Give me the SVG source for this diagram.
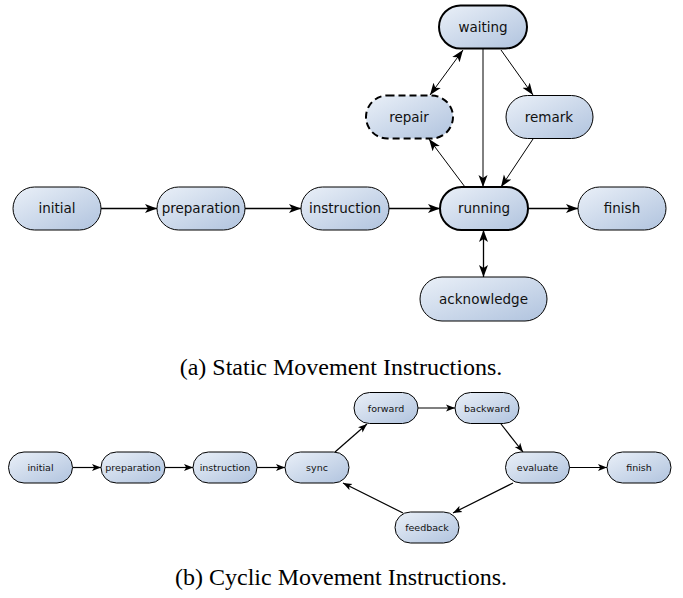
<svg xmlns="http://www.w3.org/2000/svg" width="683" height="598" viewBox="0 0 683 598">
<defs>
<linearGradient id="g" x1="0" y1="0" x2="1" y2="1">
<stop offset="0" stop-color="#eaf0f8"/>
<stop offset="1" stop-color="#b0c3de"/>
</linearGradient>
<marker id="a" markerUnits="userSpaceOnUse" markerWidth="13" markerHeight="10" refX="12" refY="5" orient="auto-start-reverse">
<path d="M0,0.5 L12,5 L0,9.5 L3,5 z" fill="#000"/>
</marker>
<marker id="s" markerUnits="userSpaceOnUse" markerWidth="10" markerHeight="8" refX="9" refY="4" orient="auto-start-reverse">
<path d="M0,0.5 L9,4 L0,7.5 L2.2,4 z" fill="#000"/>
</marker>
</defs>
<style>
.n rect{fill:url(#g);stroke:#000;stroke-width:1}
.b rect{stroke-width:2}
.d rect{stroke-width:2;stroke-dasharray:7 4}
text{font-family:"DejaVu Sans",sans-serif;fill:#111;text-anchor:middle}
.t{font-size:13.5px}
.u{font-size:9.5px}
.cap{font-family:"Liberation Serif","Times New Roman",serif;font-size:24px;fill:#000}
#edges path{fill:none;stroke:#000}
.h{stroke-width:1.3;marker-end:url(#a)}
.h2{stroke-width:1.3;marker-start:url(#a);marker-end:url(#a)}
.thin{stroke-width:1;marker-end:url(#a)}
.thin2{stroke-width:1;marker-start:url(#a);marker-end:url(#a)}
.bh{stroke-width:1.2;marker-end:url(#s)}
</style>
<g id="edges">
<path class="h" d="M101,208.5 H157"/>
<path class="h" d="M245,208.5 H301"/>
<path class="h" d="M389,208.5 H440"/>
<path class="h" d="M528,208.5 H578"/>
<path class="thin" d="M483,49 V187"/>
<path class="thin2" d="M463,50 L430,95"/>
<path class="thin" d="M501,50 L533,95"/>
<path class="thin" d="M533,139 L501,187"/>
<path class="thin" d="M465,187 L429,139"/>
<path class="h2" d="M483.5,230 V277"/>
<path class="bh" d="M73,467.5 H101"/>
<path class="bh" d="M165,467.5 H193"/>
<path class="bh" d="M257,467.5 H285"/>
<path class="bh" d="M335,452 L367,424"/>
<path class="bh" d="M418,408 H455"/>
<path class="bh" d="M501,424 L523,452"/>
<path class="bh" d="M569,467.5 H607"/>
<path class="bh" d="M513,483 L453,513"/>
<path class="bh" d="M403,513 L343,483"/>
</g>
<g id="a-initial" class="n"><rect x="13" y="187" width="88" height="43" rx="21.5"/><text class="t" x="57" y="213">initial</text></g>
<g id="a-preparation" class="n"><rect x="157" y="187" width="88" height="43" rx="21.5"/><text class="t" x="201" y="213">preparation</text></g>
<g id="a-instruction" class="n"><rect x="301" y="187" width="88" height="43" rx="21.5"/><text class="t" x="345" y="213">instruction</text></g>
<g id="a-running" class="n b"><rect x="440" y="187" width="88" height="43" rx="21.5"/><text class="t" x="484" y="213">running</text></g>
<g id="a-finish" class="n"><rect x="578" y="187" width="88" height="43" rx="21.5"/><text class="t" x="622" y="213">finish</text></g>
<g id="a-waiting" class="n b"><rect x="439" y="5.5" width="88" height="43" rx="21.5"/><text class="t" x="483" y="31.5">waiting</text></g>
<g id="a-repair" class="n d"><rect x="366" y="95.5" width="87" height="43" rx="21.5"/><text class="t" x="409" y="121.5">repair</text></g>
<g id="a-remark" class="n"><rect x="506" y="95.5" width="87" height="43" rx="21.5"/><text class="t" x="549" y="121.5">remark</text></g>
<g id="a-acknowledge" class="n"><rect x="420" y="277" width="127" height="44" rx="22"/><text class="t" x="483.5" y="303.5">acknowledge</text></g>
<text class="cap" x="341" y="375">(a) Static Movement Instructions.</text>
<g id="b-initial" class="n"><rect x="8.5" y="452" width="64" height="31" rx="15.5"/><text class="u" x="40.5" y="471">initial</text></g>
<g id="b-preparation" class="n"><rect x="101" y="452" width="64" height="31" rx="15.5"/><text class="u" x="133" y="471">preparation</text></g>
<g id="b-instruction" class="n"><rect x="193" y="452" width="64" height="31" rx="15.5"/><text class="u" x="225" y="471">instruction</text></g>
<g id="b-sync" class="n"><rect x="285" y="452" width="64" height="31" rx="15.5"/><text class="u" x="317" y="471">sync</text></g>
<g id="b-forward" class="n"><rect x="354" y="392.5" width="64" height="31" rx="15.5"/><text class="u" x="386" y="411.5">forward</text></g>
<g id="b-backward" class="n"><rect x="455" y="392.5" width="64" height="31" rx="15.5"/><text class="u" x="487" y="411.5">backward</text></g>
<g id="b-evaluate" class="n"><rect x="505.5" y="452" width="64" height="31" rx="15.5"/><text class="u" x="537.5" y="471">evaluate</text></g>
<g id="b-finish" class="n"><rect x="607" y="452" width="64" height="31" rx="15.5"/><text class="u" x="639" y="471">finish</text></g>
<g id="b-feedback" class="n"><rect x="395" y="512" width="64" height="31" rx="15.5"/><text class="u" x="427" y="531">feedback</text></g>
<text class="cap" x="341" y="585">(b) Cyclic Movement Instructions.</text>
</svg>
